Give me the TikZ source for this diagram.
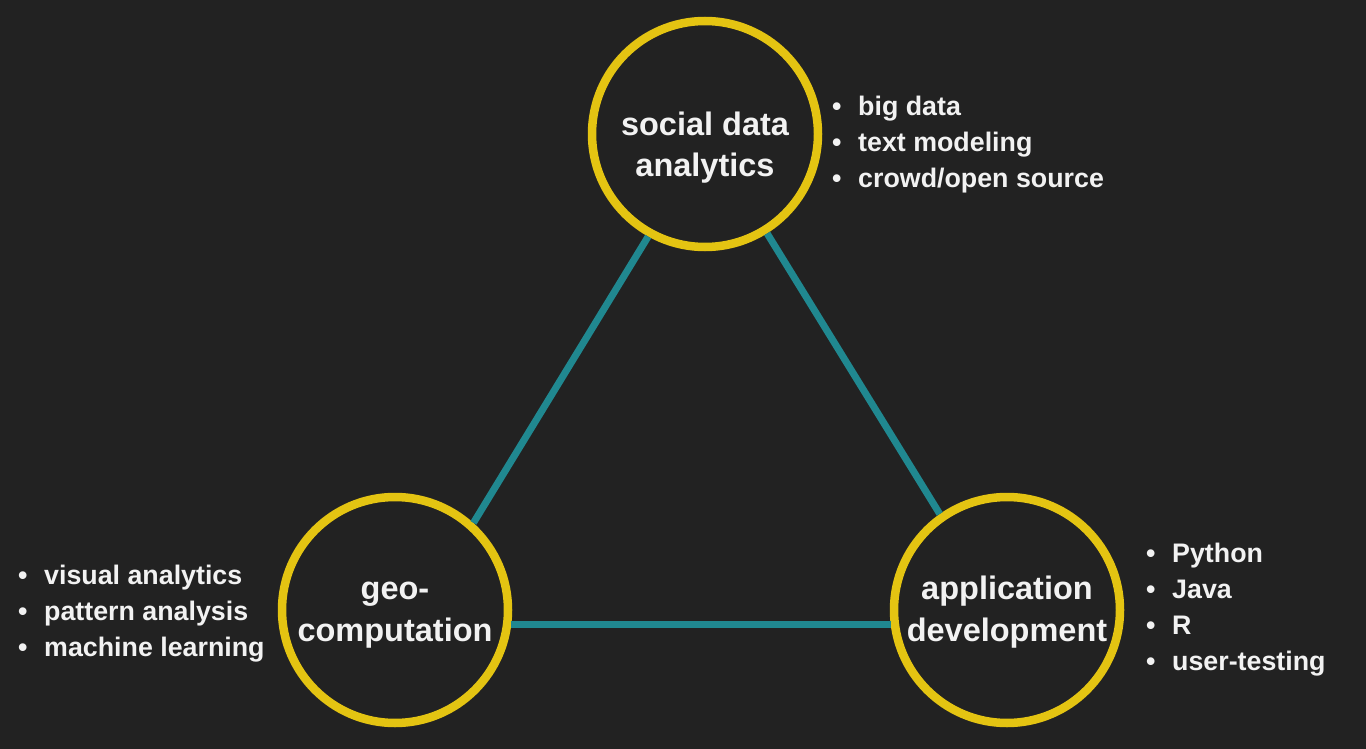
\documentclass[tikz,border=0pt]{standalone}
\usepackage{fontspec}
\setmainfont{Liberation Sans}
\definecolor{bg}{RGB}{34,34,34}
\definecolor{ring}{RGB}{228,196,18}
\definecolor{link}{RGB}{32,136,144}
\definecolor{txt}{RGB}{242,242,242}
\begin{document}
\begin{tikzpicture}[x=1pt,y=-1pt,
  ring/.style={circle,draw=ring,line width=8.5pt,minimum size=226pt,inner sep=0pt},
  linkline/.style={draw=link,line width=7pt},
  title/.style={text=txt,font=\bfseries\fontsize{32.5}{42}\selectfont,align=center,anchor=base},
  item/.style={text=txt,font=\bfseries\fontsize{26.8}{36}\selectfont,anchor=base west,inner sep=0pt}]
\fill[bg] (0,0) rectangle (1366,749);
\useasboundingbox (0,0) rectangle (1366,749);
\node[ring] (sda) at (705,134) {};
\node[ring] (geo) at (395,610) {};
\node[ring] (app) at (1007,610) {};
\draw[linkline] (sda.241.3) -- (geo.48.8);
\draw[linkline] (sda.302.2) -- (app.125.5);
\draw[linkline] (geo.-7.3) -- (app.187.3);
\node[title] (sdat) at (705,177) {social data\\analytics};
\node[title] (geot) at (395,641) {geo-\\computation};
\node[title] (appt) at (1007,641) {application\\development};
\newcommand{\bl}[1]{\makebox[26pt][l]{\textbullet}#1}
\node[item] (s1) at (832,116) {\bl{big data}};
\node[item] (s2) at (832,152) {\bl{text modeling}};
\node[item] (s3) at (832,188) {\bl{crowd/open source}};
\node[item] (g1) at (18,584) {\bl{visual analytics}};
\node[item] (g2) at (18,620) {\bl{pattern analysis}};
\node[item] (g3) at (18,656) {\bl{machine learning}};
\node[item] (a1) at (1146,562) {\bl{Python}};
\node[item] (a2) at (1146,598) {\bl{Java}};
\node[item] (a3) at (1146,634) {\bl{R}};
\node[item] (a4) at (1146,670) {\bl{user-testing}};
\end{tikzpicture}
\end{document}
